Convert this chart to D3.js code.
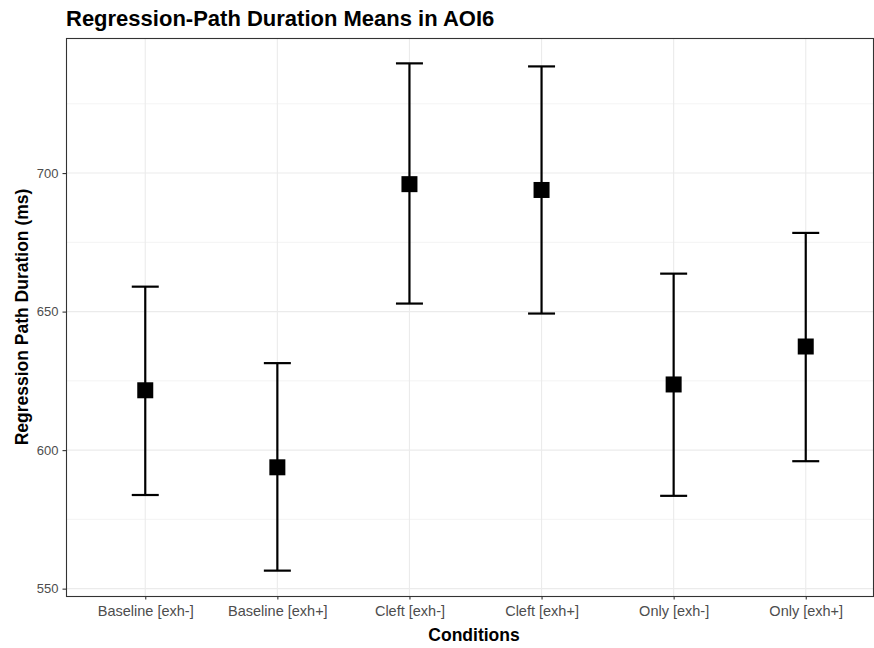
<!DOCTYPE html>
<html>
<head>
<meta charset="utf-8">
<script src="https://cdn.jsdelivr.net/npm/d3@7"></script>
<style>
  html, body { margin: 0; padding: 0; background: #fff; }
  svg { display: block; font-family: "Liberation Sans", Arial, sans-serif; }
</style>
</head>
<body>
<svg id="chart" width="874" height="648"></svg>
<script>
// Condition labels and the mean regression-path duration per condition
const conditions = ["Baseline [exh-]", "Baseline [exh+]", "Cleft [exh-]", "Cleft [exh+]", "Only [exh-]", "Only [exh+]"];
const means = [621.6, 593.8, 696.0, 693.9, 623.7, 637.4];
const lower = [583.8, 556.5, 652.9, 649.3, 583.5, 596.0];
const upper = [659.0, 631.4, 739.6, 738.5, 663.7, 678.4];
const yTicks = [550, 600, 650, 700];
const yMinorTicks = [575, 625, 675, 725];

const rows = conditions.map((c, i) => ({ cond: c, mean: means[i], lo: lower[i], hi: upper[i] }));

const svg = d3.select("#chart");
const panel = { left: 66, top: 38, right: 873, bottom: 596 };

// y domain: data range expanded by 5% on each side
const lo = d3.min(lower), hi = d3.max(upper);
const pad = (hi - lo) * 0.05;
const y = d3.scaleLinear().domain([lo - pad, hi + pad]).range([panel.bottom, panel.top]);

// discrete x axis with 0.6-step expansion on each side (panel runs past the right edge)
const x = d3.scalePoint().domain(conditions).range([panel.left, 885]).padding(0.6);

const clipId = "panel-clip";
svg.append("clipPath").attr("id", clipId).append("rect")
  .attr("x", panel.left).attr("y", panel.top)
  .attr("width", panel.right - panel.left).attr("height", panel.bottom - panel.top);

const g = svg.append("g").attr("clip-path", `url(#${clipId})`);

// grid
g.selectAll("line.minor").data(yMinorTicks).join("line")
  .attr("x1", panel.left).attr("x2", panel.right)
  .attr("y1", d => y(d)).attr("y2", d => y(d))
  .attr("stroke", "#ebebeb").attr("stroke-width", 0.6);
g.selectAll("line.major").data(yTicks).join("line")
  .attr("x1", panel.left).attr("x2", panel.right)
  .attr("y1", d => y(d)).attr("y2", d => y(d))
  .attr("stroke", "#ebebeb").attr("stroke-width", 1.1);
g.selectAll("line.vmajor").data(conditions).join("line")
  .attr("x1", d => x(d)).attr("x2", d => x(d))
  .attr("y1", panel.top).attr("y2", panel.bottom)
  .attr("stroke", "#ebebeb").attr("stroke-width", 1.1);

// error bars
const capHalf = 13.5;
const bars = g.selectAll("g.bar").data(rows).join("g").attr("class", "bar");
bars.append("line")
  .attr("x1", d => x(d.cond)).attr("x2", d => x(d.cond))
  .attr("y1", d => y(d.lo)).attr("y2", d => y(d.hi))
  .attr("stroke", "#000").attr("stroke-width", 2.2);
bars.append("line")
  .attr("x1", d => x(d.cond) - capHalf).attr("x2", d => x(d.cond) + capHalf)
  .attr("y1", d => y(d.hi)).attr("y2", d => y(d.hi))
  .attr("stroke", "#000").attr("stroke-width", 2.2);
bars.append("line")
  .attr("x1", d => x(d.cond) - capHalf).attr("x2", d => x(d.cond) + capHalf)
  .attr("y1", d => y(d.lo)).attr("y2", d => y(d.lo))
  .attr("stroke", "#000").attr("stroke-width", 2.2);

// mean markers
const sq = 16;
bars.append("rect")
  .attr("x", d => x(d.cond) - sq / 2).attr("y", d => y(d.mean) - sq / 2)
  .attr("width", sq).attr("height", sq).attr("fill", "#000");

// panel border
svg.append("rect")
  .attr("x", panel.left + 0.5).attr("y", panel.top + 0.5)
  .attr("width", panel.right - panel.left).attr("height", panel.bottom - panel.top)
  .attr("fill", "none").attr("stroke", "#333333").attr("stroke-width", 1.1);

// axes
const yAxis = svg.append("g").attr("transform", `translate(${panel.left},0)`)
  .call(d3.axisLeft(y).tickValues(yTicks).tickSize(3.5).tickPadding(4));
const xAxis = svg.append("g").attr("transform", `translate(0,${panel.bottom})`)
  .call(d3.axisBottom(x).tickSize(3.5).tickPadding(6));
[yAxis, xAxis].forEach(a => {
  a.select(".domain").remove();
  a.selectAll(".tick line").attr("stroke", "#333333").attr("stroke-width", 1.1);
  a.selectAll(".tick text").attr("fill", "#4d4d4d")
    .style("font-family", "'Liberation Sans', Arial, sans-serif");
});
yAxis.selectAll(".tick text").style("font-size", "13px");
xAxis.selectAll(".tick text").style("font-size", "14.5px");

// titles
svg.append("text").attr("x", panel.left).attr("y", 26)
  .style("font-size", "22px").style("font-weight", "bold").attr("fill", "#000")
  .text("Regression-Path Duration Means in AOI6");
svg.append("text").attr("x", 474).attr("y", 641)
  .attr("text-anchor", "middle")
  .style("font-size", "17.5px").style("font-weight", "bold").attr("fill", "#000")
  .text("Conditions");
svg.append("text")
  .attr("transform", `translate(28,${(panel.top + panel.bottom) / 2}) rotate(-90)`)
  .attr("text-anchor", "middle")
  .style("font-size", "17.5px").style("font-weight", "bold").attr("fill", "#000")
  .text("Regression Path Duration (ms)");
</script>
</body>
</html>
